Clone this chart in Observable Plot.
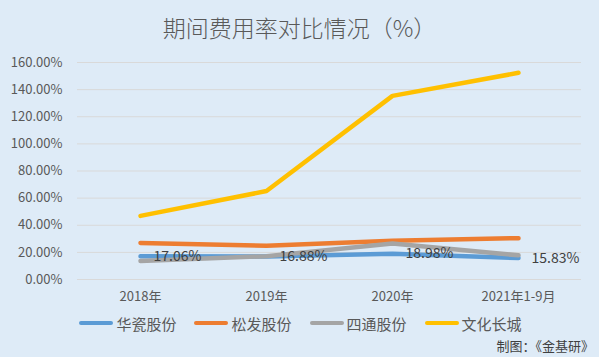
<!DOCTYPE html>
<html>
<head>
<meta charset="utf-8">
<script src="https://cdn.jsdelivr.net/npm/d3@7"></script>
<script src="https://cdn.jsdelivr.net/npm/@observablehq/plot@0.6"></script>
<style>
  html, body { margin: 0; padding: 0; }
  body { width: 599px; height: 357px; background: #DEEBF7; overflow: hidden;
         font-family: "Noto Sans CJK SC", "Noto Sans", sans-serif; color: #595959; }
  #title { height: 50px; line-height: 54px; text-align: center; font-size: 23px; color: #595959; padding-left: 0px; font-weight: 300; }
  #chart svg { display: block; }
  #legend { display: flex; justify-content: center; align-items: center; height: 34px; font-size: 15px; color: #595959; padding-left: 2px; }
  .item { display: flex; align-items: center; margin: 0 9px; }
  .swatch { width: 34px; height: 4px; border-radius: 2px; margin-right: 3px; }
  #caption { position: absolute; right: 5px; top: 336px; font-size: 13px; color: #404040; }
</style>
</head>
<body>
<div id="title">期间费用率对比情况（%）</div>
<div id="chart"></div>
<div id="legend"></div>
<div id="caption">制图：《金基研》</div>
<script>
const categories = ["2018年", "2019年", "2020年", "2021年1-9月"];
const seriesNames = ["华瓷股份", "松发股份", "四通股份", "文化长城"];
const huaci = [0.1706, 0.1688, 0.1898, 0.1583];
const songfa = [0.270, 0.248, 0.285, 0.305];
const sitong = [0.137, 0.172, 0.265, 0.178];
const wenhua = [0.469, 0.652, 1.354, 1.524];
const colors = ["#5B9BD5", "#ED7D31", "#A5A5A5", "#FFC000"];
const yTicks = [0, 0.2, 0.4, 0.6, 0.8, 1.0, 1.2, 1.4, 1.6];

const allValues = [huaci, songfa, sitong, wenhua];
const rows = [];
seriesNames.forEach((s, i) => categories.forEach((c, j) => rows.push({series: s, cat: c, value: allValues[i][j]})));
const labelRows = categories.map((c, j) => ({cat: c, value: huaci[j]}));

const fmt = d3.format(".2%");

const plot = Plot.plot({
  width: 599,
  height: 256,
  marginLeft: 77,
  marginRight: 18,
  marginTop: 12,
  marginBottom: 27,
  style: { background: "transparent", fontFamily: "'Noto Sans CJK SC', 'Noto Sans', sans-serif", fontSize: "13px", color: "#595959" },
  x: { type: "point", domain: categories, padding: 0.5, label: null },
  y: { domain: [0, 1.6], label: null },
  color: { domain: seriesNames, range: colors },
  marks: [
    Plot.gridY(yTicks, { stroke: "#d9d9d9", strokeOpacity: 1, strokeWidth: 1 }),
    Plot.axisY({ ticks: yTicks, tickFormat: fmt, tickSize: 0, tickPadding: 15, label: null, fontSize: 13, fill: "#595959" }),
    Plot.axisX({ tickSize: 0, tickPadding: 12, label: null, fontSize: 13, fill: "#595959" }),
    Plot.line(rows, { x: "cat", y: "value", z: "series", stroke: "series", strokeWidth: 4.5, strokeLinecap: "round", strokeLinejoin: "round" }),
    Plot.text(labelRows, { x: "cat", y: "value", text: d => fmt(d.value), textAnchor: "start", dx: 13, fill: "#404040", fontSize: 14 })
  ]
});
document.getElementById("chart").appendChild(plot);

const legend = document.getElementById("legend");
seriesNames.forEach((s, i) => {
  const item = document.createElement("div");
  item.className = "item";
  const sw = document.createElement("div");
  sw.className = "swatch";
  sw.style.background = colors[i];
  const t = document.createElement("span");
  t.textContent = s;
  item.appendChild(sw); item.appendChild(t);
  legend.appendChild(item);
});
</script>
</body>
</html>
